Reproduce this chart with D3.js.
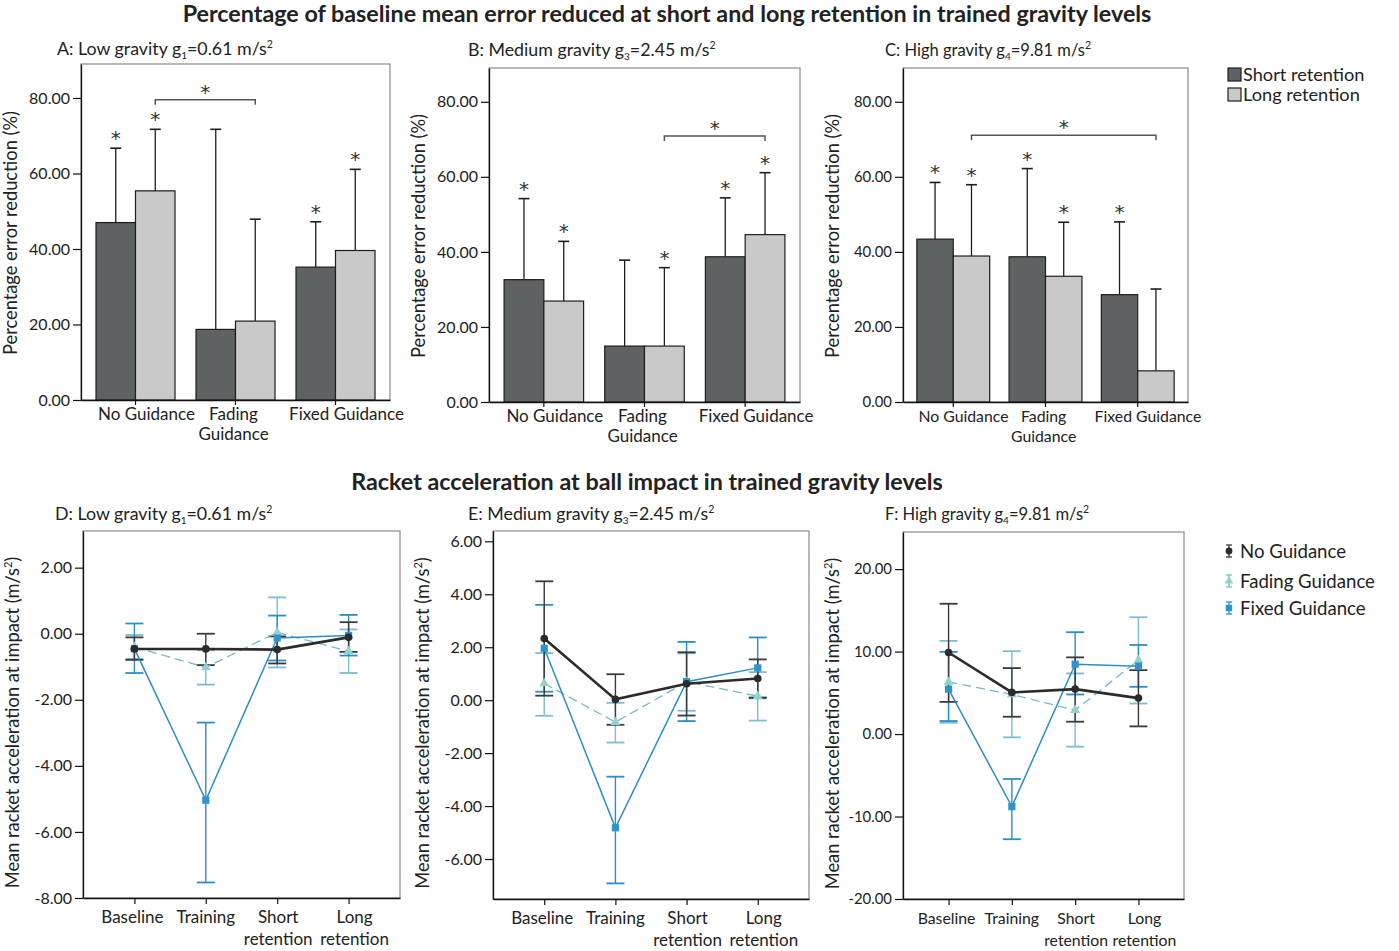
<!DOCTYPE html>
<html>
<head>
<meta charset="utf-8">
<script src="https://cdn.jsdelivr.net/npm/d3@7"></script>
<style>
  body { margin: 0; background: #fff; }
  svg { font-family: Lato, "Open Sans", sans-serif; }
</style>
</head>
<body>
<svg id="chart" width="1399" height="951"></svg>
<script>
// ---------- data: top row (percentage error reduction) ----------
const groups = ["No Guidance", "Fading Guidance", "Fixed Guidance"];
const groupLabels = [["No Guidance"], ["Fading", "Guidance"], ["Fixed Guidance"]];
const retentions = ["Short retention", "Long retention"];

// bar = mean, upper = mean + SD whisker end
const lowShort = [47.0, 18.7, 35.2];
const lowShortUpper = [66.7, 71.7, 47.2];
const lowLong = [55.4, 20.9, 39.6];
const lowLongUpper = [71.7, 47.9, 61.1];
const lowShortSig = [true, false, true];
const lowLongSig = [true, false, true];
const lowBracket = ["No Guidance", "Fading Guidance", 79.5];

const medShort = [32.6, 14.9, 38.7];
const medShortUpper = [54.2, 37.8, 54.4];
const medLong = [26.9, 14.9, 44.6];
const medLongUpper = [42.8, 35.8, 61.1];
const medShortSig = [true, false, true];
const medLongSig = [true, true, true];
const medBracket = ["Fading Guidance", "Fixed Guidance", 70.9];

const highShort = [43.4, 38.7, 28.6];
const highShortUpper = [58.5, 62.2, 48.0];
const highLong = [38.9, 33.5, 8.3];
const highLongUpper = [57.9, 47.9, 30.1];
const highShortSig = [true, true, true];
const highLongSig = [true, true, false];
const highBracket = ["No Guidance", "Fixed Guidance", 71.1];

const barTicks = [0, 20, 40, 60, 80];

// ---------- data: bottom row (racket acceleration) ----------
const phases = ["Baseline", "Training", "Short retention", "Long retention"];
const phaseLabels = [["Baseline"], ["Training"], ["Short", "retention"], ["Long", "retention"]];
const guidance = ["No Guidance", "Fading Guidance", "Fixed Guidance"];

const lowNoMean = [-0.46, -0.46, -0.48, -0.11];
const lowNoLo = [-0.79, -0.95, -0.90, -0.55];
const lowNoHi = [-0.11, 0.00, -0.08, 0.35];
const lowFadeMean = [-0.40, -1.02, 0.04, -0.53];
const lowFadeLo = [-0.76, -1.54, -1.02, -1.19];
const lowFadeHi = [-0.04, -0.50, 1.10, 0.13];
const lowFixMean = [-0.45, -5.04, -0.13, -0.05];
const lowFixLo = [-1.19, -7.53, -0.81, -0.66];
const lowFixHi = [0.31, -2.69, 0.55, 0.57];

const medNoMean = [2.33, 0.03, 0.62, 0.82];
const medNoLo = [0.17, -0.93, -0.58, 0.10];
const medNoHi = [4.49, 0.98, 1.81, 1.54];
const medFadeMean = [0.63, -0.83, 0.69, 0.15];
const medFadeLo = [-0.59, -1.60, -0.40, -0.77];
const medFadeHi = [1.78, -0.10, 1.77, 1.06];
const medFixMean = [1.96, -4.82, 0.70, 1.22];
const medFixLo = [0.32, -6.92, -0.79, 0.07];
const medFixHi = [3.60, -2.89, 2.20, 2.37];

const highNoMean = [9.89, 5.05, 5.45, 4.36];
const highNoLo = [3.90, 2.10, 1.50, 0.93];
const highNoHi = [15.80, 8.00, 9.30, 7.75];
const highFadeMean = [6.33, 4.80, 2.90, 8.95];
const highFadeLo = [1.37, -0.40, -1.53, 3.70];
const highFadeHi = [11.30, 10.05, 7.35, 14.16];
const highFixMean = [5.45, -8.80, 8.47, 8.23];
const highFixLo = [1.58, -12.75, 4.80, 5.73];
const highFixHi = [9.97, -5.45, 12.35, 10.80];

const lowTicks = [-8, -6, -4, -2, 0, 2];
const medTicks = [-6, -4, -2, 0, 2, 4, 6];
const highTicks = [-20, -10, 0, 10, 20];

// ---------- styles ----------
const barFill = {"Short retention": "#5f6262", "Long retention": "#c9c9c9"};
const lineStyle = {
  "No Guidance": {color: "#2b2b2b", err: "#3a3a3a", marker: "#2b2b2b", width: 2.6, dash: null, symbol: d3.symbolCircle, size: 46},
  "Fading Guidance": {color: "#74b6d4", err: "#7dbcd2", marker: "#93d2cc", width: 1.3, dash: "9,5", symbol: d3.symbolTriangle, size: 42},
  "Fixed Guidance": {color: "#2b8ec6", err: "#2b8ec6", marker: "#2e95cc", width: 1.5, dash: null, symbol: d3.symbolSquare, size: 52}
};
const groupLabelShift = [11, -2, 11];
const phaseLabelShift = [-2, 0, 1, 6];
const fmt = v => d3.format(".2f")(v).replace("\u2212", "-");

const svg = d3.select("#chart");
svg.append("rect").attr("width", 1399).attr("height", 951).attr("fill", "#fff");

function panelTitle(x, y, letter, sub, value, fs) {
  const t = svg.append("text").attr("x", x).attr("y", y).attr("font-size", fs).attr("fill", "#222");
  t.append("tspan").text(letter + "g");
  t.append("tspan").attr("font-size", 10).attr("dy", 4).text(sub);
  t.append("tspan").attr("dy", -4).text("=" + value + " m/s");
  t.append("tspan").attr("font-size", 10.5).attr("dy", -7).text("2");
}

function yTitle(x, y, txt, sup) {
  const t = svg.append("text")
    .attr("transform", `translate(${x},${y}) rotate(-90)`)
    .attr("text-anchor", "middle").attr("font-size", 18.3).attr("fill", "#222");
  if (sup) {
    t.append("tspan").text(txt + " (m/s");
    t.append("tspan").attr("font-size", 11).attr("dy", -7).text("2");
    t.append("tspan").attr("dy", 7).text(")");
  } else {
    t.text(txt);
  }
}

function styleAxis(a, fs) {
  a.select(".domain").attr("stroke", "#111").attr("stroke-width", 1.3);
  a.selectAll(".tick line").attr("stroke", "#111").attr("stroke-width", 1.2);
  a.selectAll(".tick text").attr("font-size", fs).attr("fill", "#222").attr("font-family", "Lato, sans-serif");
}

function star(g, x, y) {
  g.append("text").attr("x", x).attr("y", y).attr("text-anchor", "middle")
    .attr("font-family", "DejaVu Sans, sans-serif").attr("font-size", 20).attr("fill", "#333").text("*");
}

function barPanel(p) {
  const g = svg.append("g");
  const s = p.scale;
  const x = d3.scaleBand().domain(groups).range([p.x0, p.x1]).paddingInner(0.21).paddingOuter(0.15);
  const xs = d3.scaleBand().domain(retentions).range([0, x.bandwidth()]);
  const y = d3.scaleLinear().domain([0, 89]).range([p.y1, p.y0]);

  g.append("rect").attr("x", p.x0).attr("y", p.y0).attr("width", p.x1 - p.x0).attr("height", p.y1 - p.y0)
    .attr("fill", "none").attr("stroke", "#8a8a8a").attr("stroke-width", 1.2);

  const series = [
    {key: "Short retention", mean: p.short, upper: p.shortUpper, sig: p.shortSig},
    {key: "Long retention", mean: p.long, upper: p.longUpper, sig: p.longSig}
  ];
  series.forEach(sr => {
    const rows = groups.map((gname, i) => ({g: gname, m: sr.mean[i], u: sr.upper[i], sig: sr.sig[i]}));
    const cx = d => x(d.g) + xs(sr.key) + xs.bandwidth() / 2;
    g.selectAll(null).data(rows).enter().append("rect")
      .attr("x", d => x(d.g) + xs(sr.key)).attr("y", d => y(d.m))
      .attr("width", xs.bandwidth()).attr("height", d => y(0) - y(d.m))
      .attr("fill", barFill[sr.key]).attr("stroke", "#1e1e1e").attr("stroke-width", 1.2);
    g.selectAll(null).data(rows).enter().append("line")
      .attr("x1", cx).attr("x2", cx).attr("y1", d => y(d.m)).attr("y2", d => y(d.u))
      .attr("stroke", "#1e1e1e").attr("stroke-width", 1.3);
    g.selectAll(null).data(rows).enter().append("line")
      .attr("x1", d => cx(d) - 5.5).attr("x2", d => cx(d) + 5.5).attr("y1", d => y(d.u)).attr("y2", d => y(d.u))
      .attr("stroke", "#1e1e1e").attr("stroke-width", 1.6);
    rows.filter(d => d.sig).forEach(d => star(g, cx(d), y(d.u) - 3));
  });

  // significance bracket between long-retention bars
  const [bFrom, bTo, bVal] = p.bracket;
  const bx0 = x(bFrom) + xs("Long retention") + xs.bandwidth() / 2;
  const bx1 = x(bTo) + xs("Long retention") + xs.bandwidth() / 2;
  const by = y(bVal);
  g.append("path").attr("d", `M${bx0},${by + 5}V${by}H${bx1}V${by + 5}`)
    .attr("fill", "none").attr("stroke", "#555").attr("stroke-width", 1.5);
  star(g, (bx0 + bx1) / 2, by - 1);

  const ya = g.append("g").attr("transform", `translate(${p.x0},0)`)
    .call(d3.axisLeft(y).tickValues(barTicks).tickFormat(fmt).tickSize(8).tickSizeOuter(0).tickPadding(3));
  styleAxis(ya, 16 * s);
  const xa = g.append("g").attr("transform", `translate(0,${p.y1})`)
    .call(d3.axisBottom(x).tickSize(5).tickSizeOuter(0).tickFormat(""));
  styleAxis(xa, 16);

  g.selectAll(null).data(groups).enter().append("text")
    .attr("y", p.y1 + 20)
    .attr("text-anchor", "middle").attr("font-size", 17 * s).attr("fill", "#222")
    .each(function(d, i) {
      const cx = x(d) + x.bandwidth() / 2 + groupLabelShift[i] * s;
      groupLabels[i].forEach((line, k) => {
        d3.select(this).append("tspan").attr("x", cx).attr("dy", k ? 20 : 0).text(line);
      });
    });

  panelTitle(p.tx, p.ty, p.letter, p.sub, p.value, 17.8 * s);
  yTitle(p.x0 - 64, (p.y0 + p.y1) / 2 + 1, "Percentage error reduction (%)", false);
}

function linePanel(p) {
  const g = svg.append("g");
  const s = p.scale;
  const x = d3.scalePoint().domain(phases).range([p.x0, p.x1]).padding(0.72);
  const y = d3.scaleLinear().domain(p.domain).range([p.y1, p.y0]);

  g.append("rect").attr("x", p.x0).attr("y", p.y0).attr("width", p.x1 - p.x0).attr("height", p.y1 - p.y0)
    .attr("fill", "none").attr("stroke", "#8a8a8a").attr("stroke-width", 1.2);

  const series = [
    {key: "Fading Guidance", mean: p.fade[0], lo: p.fade[1], hi: p.fade[2]},
    {key: "Fixed Guidance", mean: p.fix[0], lo: p.fix[1], hi: p.fix[2]},
    {key: "No Guidance", mean: p.no[0], lo: p.no[1], hi: p.no[2]}
  ];
  series.forEach(sr => {
    const st = lineStyle[sr.key];
    const rows = phases.map((ph, i) => ({ph, m: sr.mean[i], lo: sr.lo[i], hi: sr.hi[i]}));
    g.selectAll(null).data(rows).enter().append("line")
      .attr("x1", d => x(d.ph)).attr("x2", d => x(d.ph)).attr("y1", d => y(d.lo)).attr("y2", d => y(d.hi))
      .attr("stroke", st.err).attr("stroke-width", 1.4);
    ["lo", "hi"].forEach(k => {
      g.selectAll(null).data(rows).enter().append("line")
        .attr("x1", d => x(d.ph) - 9).attr("x2", d => x(d.ph) + 9)
        .attr("y1", d => y(d[k])).attr("y2", d => y(d[k]))
        .attr("stroke", st.err).attr("stroke-width", 1.8);
    });
  });
  series.forEach(sr => {
    const st = lineStyle[sr.key];
    const rows = phases.map((ph, i) => ({ph, m: sr.mean[i]}));
    g.append("path").datum(rows)
      .attr("d", d3.line().x(d => x(d.ph)).y(d => y(d.m)))
      .attr("fill", "none").attr("stroke", st.color).attr("stroke-width", st.width)
      .attr("stroke-dasharray", st.dash);
    g.selectAll(null).data(rows).enter().append("path")
      .attr("transform", d => `translate(${x(d.ph)},${y(d.m)})`)
      .attr("d", d3.symbol().type(st.symbol).size(st.size)).attr("fill", st.marker);
  });

  const ya = g.append("g").attr("transform", `translate(${p.x0},0)`)
    .call(d3.axisLeft(y).tickValues(p.ticks).tickFormat(fmt).tickSize(8).tickSizeOuter(0).tickPadding(3));
  styleAxis(ya, 16 * s);
  const xa = g.append("g").attr("transform", `translate(0,${p.y1})`)
    .call(d3.axisBottom(x).tickSize(6).tickSizeOuter(0).tickFormat(""));
  styleAxis(xa, 16);

  g.selectAll(null).data(phases).enter().append("text")
    .attr("y", p.y1 + 25)
    .attr("text-anchor", "middle").attr("font-size", 17 * s).attr("fill", "#222")
    .each(function(d, i) {
      const cx = x(d) + phaseLabelShift[i];
      phaseLabels[i].forEach((line, k) => {
        d3.select(this).append("tspan").attr("x", cx).attr("dy", k ? 22 : 0).text(line);
      });
    });

  panelTitle(p.tx, p.ty, p.letter, p.sub, p.value, 17.8 * s);
  yTitle(p.x0 - 64, (p.y0 + p.y1) / 2 + 8, "Mean racket acceleration at impact", true);
}

// ---------- titles ----------
svg.append("text").attr("x", 667).attr("y", 22).attr("text-anchor", "middle")
  .attr("font-size", 23.3).attr("font-weight", "bold").attr("fill", "#222")
  .text("Percentage of baseline mean error reduced at short and long retention in trained gravity levels");
svg.append("text").attr("x", 647).attr("y", 490).attr("text-anchor", "middle")
  .attr("font-size", 23.3).attr("font-weight", "bold").attr("fill", "#222")
  .text("Racket acceleration at ball impact in trained gravity levels");

// ---------- top row ----------
barPanel({x0: 81, x1: 390, y0: 64, y1: 400, tx: 57, ty: 55, scale: 1, letter: "A: Low gravity ", sub: "1", value: "0.61",
  short: lowShort, shortUpper: lowShortUpper, long: lowLong, longUpper: lowLongUpper,
  shortSig: lowShortSig, longSig: lowLongSig, bracket: lowBracket});
barPanel({x0: 489, x1: 800, y0: 68, y1: 402, tx: 468, ty: 56, scale: 1, letter: "B: Medium gravity ", sub: "3", value: "2.45",
  short: medShort, shortUpper: medShortUpper, long: medLong, longUpper: medLongUpper,
  shortSig: medShortSig, longSig: medLongSig, bracket: medBracket});
barPanel({x0: 903, x1: 1188, y0: 68, y1: 402, tx: 885, ty: 56, scale: 0.93, letter: "C: High gravity ", sub: "4", value: "9.81",
  short: highShort, shortUpper: highShortUpper, long: highLong, longUpper: highLongUpper,
  shortSig: highShortSig, longSig: highLongSig, bracket: highBracket});

// top legend
const topLegend = svg.append("g");
retentions.forEach((r, i) => {
  topLegend.append("rect").attr("x", 1228).attr("y", 68 + i * 20).attr("width", 13).attr("height", 13)
    .attr("fill", barFill[r]).attr("stroke", "#1e1e1e").attr("stroke-width", 1.2);
  topLegend.append("text").attr("x", 1243).attr("y", 80.5 + i * 20).attr("font-size", 18.2).attr("fill", "#222").text(r);
});

// ---------- bottom row ----------
linePanel({x0: 83, x1: 400, y0: 531, y1: 898, tx: 55, ty: 520, scale: 1, letter: "D: Low gravity ", sub: "1", value: "0.61",
  domain: [-8, 3.11], ticks: lowTicks,
  no: [lowNoMean, lowNoLo, lowNoHi], fade: [lowFadeMean, lowFadeLo, lowFadeHi], fix: [lowFixMean, lowFixLo, lowFixHi]});
linePanel({x0: 493, x1: 809, y0: 531, y1: 899, tx: 468, ty: 520, scale: 1, letter: "E: Medium gravity ", sub: "3", value: "2.45",
  domain: [-7.51, 6.39], ticks: medTicks,
  no: [medNoMean, medNoLo, medNoHi], fade: [medFadeMean, medFadeLo, medFadeHi], fix: [medFixMean, medFixLo, medFixHi]});
linePanel({x0: 903, x1: 1184, y0: 532, y1: 899, tx: 885, ty: 520, scale: 0.93, letter: "F: High gravity ", sub: "4", value: "9.81",
  domain: [-20, 24.5], ticks: highTicks,
  no: [highNoMean, highNoLo, highNoHi], fade: [highFadeMean, highFadeLo, highFadeHi], fix: [highFixMean, highFixLo, highFixHi]});

// bottom legend
const botLegend = svg.append("g");
guidance.forEach((k, i) => {
  const st = lineStyle[k];
  const cy = 551 + [0, 30, 57][i];
  botLegend.append("line").attr("x1", 1229).attr("x2", 1229).attr("y1", cy - 6).attr("y2", cy + 6).attr("stroke", st.err).attr("stroke-width", 1.3);
  [-6, 6].forEach(o => botLegend.append("line").attr("x1", 1226).attr("x2", 1232).attr("y1", cy + o).attr("y2", cy + o)
    .attr("stroke", st.err).attr("stroke-width", 1.3));
  botLegend.append("path").attr("transform", `translate(1229,${cy})`)
    .attr("d", d3.symbol().type(st.symbol).size(st.size * 0.8)).attr("fill", st.marker);
  botLegend.append("text").attr("x", 1240).attr("y", cy + 6.5).attr("font-size", 18.6).attr("fill", "#222").text(k);
});
</script>
</body>
</html>
